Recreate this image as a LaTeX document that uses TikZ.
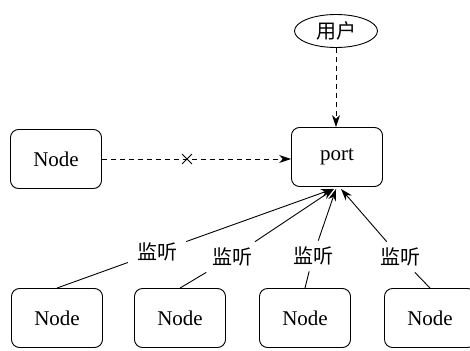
\documentclass[tikz,border=0pt]{standalone}
\usepackage{fontspec}
\setmainfont{Liberation Serif}
\newfontfamily\cjk{Noto Sans CJK SC}
\usetikzlibrary{arrows.meta,shapes.geometric,shapes.misc}
\begin{document}
\begin{tikzpicture}[x=1pt,y=-1pt,
  box/.style={draw,rounded corners=8pt,minimum width=91pt,minimum height=59pt,font=\fontsize{21}{23}\selectfont,line width=0.9pt},
  lbl/.style={font=\cjk\fontsize{20}{22}\selectfont,inner xsep=9pt,inner ysep=6pt},
  arr/.style={-{Stealth[length=12pt,width=8pt]},line width=0.9pt},
  dsh/.style={dash pattern=on 5pt off 4pt,line width=0.9pt}]
\useasboundingbox (0,0) rectangle (470,350);
\node[draw,ellipse,minimum width=83pt,minimum height=33pt,inner sep=0pt,font=\cjk\fontsize{20}{22}\selectfont,line width=0.9pt] (user) at (336,31) {用户};
\node[box] (port) at (337,157) {port};
\node[box] (left) at (56,159) {Node};
\node[box] (n1) at (57,318) {Node};
\node[box] (n2) at (180,318) {Node};
\node[box] (n3) at (305,318) {Node};
\node[box] (n4) at (430,318) {Node};
\node[lbl] (l1) at (157,252) {监听};
\node[lbl] (l2) at (232,257) {监听};
\node[lbl] (l3) at (313,256) {监听};
\node[lbl] (l4) at (400,257) {监听};
\draw[dsh,arr] (user) -- (user.south |- port.north);
\draw[dsh,arr] (left) -- node[cross out,draw,solid,minimum size=9pt,inner sep=0pt,pos=0.45,line width=0.9pt] (x) {} (left.east -| port.west);
\draw[line width=0.9pt] (n1.north) -- (l1);
\draw[line width=0.9pt] (n2.north) -- (l2);
\draw[line width=0.9pt] (n3.north) -- (l3);
\draw[line width=0.9pt] (n4.north) -- (l4);
\draw[arr] (l1) -- ([xshift=-4pt,yshift=-2pt]port.south);
\draw[arr] (l2) -- ([xshift=-3pt,yshift=-2pt]port.south);
\draw[arr] (l3) -- ([xshift=-1pt,yshift=-2pt]port.south);
\draw[arr] (l4) -- ([xshift=4pt,yshift=-2pt]port.south);
\end{tikzpicture}
\end{document}
